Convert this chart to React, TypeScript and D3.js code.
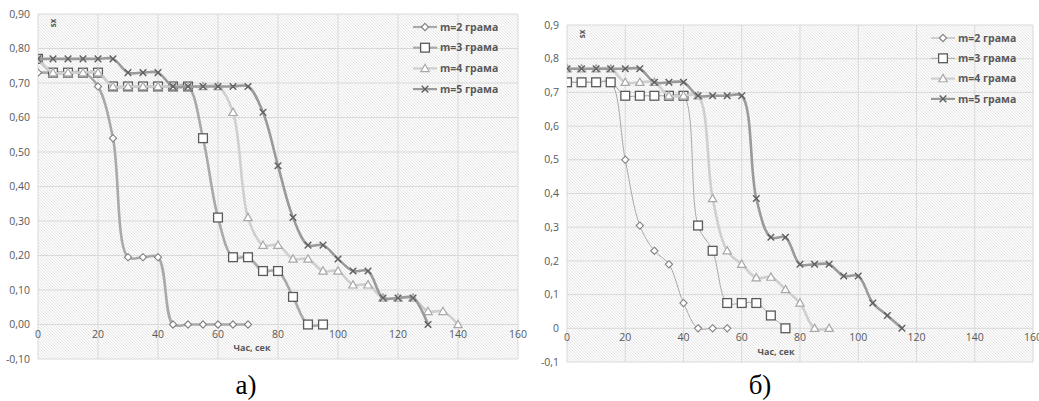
import React from "react";
import * as d3 from "d3";

// ---------- DATA ----------
const seriesNames = ["m=2 грама", "m=3 грама", "m=4 грама", "m=5 грама"];
const xTicks = [0, 20, 40, 60, 80, 100, 120, 140, 160];
const yTicks = [-0.1, 0, 0.1, 0.2, 0.3, 0.4, 0.5, 0.6, 0.7, 0.8, 0.9];
const times = [0, 5, 10, 15, 20, 25, 30, 35, 40, 45, 50, 55, 60, 65, 70, 75, 80, 85, 90, 95, 100, 105, 110, 115, 120, 125, 130, 135, 140];

// chart a)
const a_m2 = [0.73, 0.73, 0.73, 0.73, 0.69, 0.54, 0.195, 0.195, 0.195, 0, 0, 0, 0, 0, 0];
const a_m3 = [0.77, 0.73, 0.73, 0.73, 0.73, 0.69, 0.69, 0.69, 0.69, 0.69, 0.69, 0.54, 0.31, 0.195, 0.195, 0.155, 0.155, 0.08, 0, 0];
const a_m4 = [0.77, 0.73, 0.73, 0.73, 0.73, 0.69, 0.69, 0.69, 0.69, 0.69, 0.69, 0.69, 0.69, 0.615, 0.31, 0.23, 0.23, 0.19, 0.19, 0.155, 0.155, 0.115, 0.115, 0.077, 0.077, 0.077, 0.038, 0.038, 0];
const a_m5 = [0.77, 0.77, 0.77, 0.77, 0.77, 0.77, 0.73, 0.73, 0.73, 0.69, 0.69, 0.69, 0.69, 0.69, 0.69, 0.615, 0.46, 0.31, 0.23, 0.23, 0.19, 0.155, 0.155, 0.077, 0.077, 0.077, 0];

// chart б)
const b_m2 = [0.73, 0.73, 0.73, 0.73, 0.5, 0.305, 0.23, 0.19, 0.075, 0, 0, 0];
const b_m3 = [0.73, 0.73, 0.73, 0.73, 0.69, 0.69, 0.69, 0.69, 0.69, 0.305, 0.23, 0.075, 0.075, 0.075, 0.038, 0];
const b_m4 = [0.77, 0.77, 0.77, 0.77, 0.73, 0.73, 0.73, 0.69, 0.69, 0.69, 0.385, 0.23, 0.19, 0.15, 0.152, 0.115, 0.075, 0, 0];
const b_m5 = [0.77, 0.77, 0.77, 0.77, 0.77, 0.77, 0.73, 0.73, 0.73, 0.69, 0.69, 0.69, 0.69, 0.385, 0.27, 0.27, 0.19, 0.19, 0.19, 0.155, 0.155, 0.075, 0.038, 0];

// ---------- STYLE ----------
const FONT = "'Open Sans', 'Noto Sans', sans-serif";
const TXT = "#595959";
const GRID = "#d9d9d9";

type MarkerKind = "diamond" | "square" | "triangle" | "x";
const styles: { line: string; marker: MarkerKind; mstroke: string }[] = [
  { line: "#a9a9a9", marker: "diamond", mstroke: "#808080" },
  { line: "#a9a9a9", marker: "square", mstroke: "#5a5a5a" },
  { line: "#cfcfcf", marker: "triangle", mstroke: "#a8a8a8" },
  { line: "#9a9a9a", marker: "x", mstroke: "#5f5f5f" },
];

function Marker({ kind, x, y, stroke }: { kind: MarkerKind; x: number; y: number; stroke: string }) {
  if (kind === "diamond") {
    const r = 3.6;
    return <path d={`M${x},${y - r}L${x + r},${y}L${x},${y + r}L${x - r},${y}Z`} fill="#fff" stroke={stroke} strokeWidth={1.1} />;
  }
  if (kind === "square") {
    const r = 4.4;
    return <rect x={x - r} y={y - r} width={2 * r} height={2 * r} fill="#fff" stroke={stroke} strokeWidth={1.3} />;
  }
  if (kind === "triangle") {
    const r = 4.2;
    return <path d={`M${x},${y - r}L${x + r},${y + r * 0.75}L${x - r},${y + r * 0.75}Z`} fill="#fff" stroke={stroke} strokeWidth={1.2} />;
  }
  const r = 3.3;
  return <path d={`M${x - r},${y - r}L${x + r},${y + r}M${x - r},${y + r}L${x + r},${y - r}`} stroke={stroke} strokeWidth={1.4} fill="none" />;
}

interface ChartProps {
  id: string;
  left: number;
  right: number;
  top: number;
  bottom: number;
  series: number[][];
  widths: number[];
  fmt: (v: number) => string;
  legendX: number;
  legendY: number;
  legendStep: number;
  titleX: number;
  titleY: number;
  caption: string;
  captionX: number;
}

function Chart(p: ChartProps) {
  const x = d3.scaleLinear().domain([0, 160]).range([p.left, p.right]);
  const y = d3.scaleLinear().domain([-0.1, 0.9]).range([p.bottom, p.top]);
  const line = d3
    .line<number>()
    .x((_, i) => x(times[i]))
    .y((d) => y(d))
    .curve(d3.curveCatmullRom.alpha(0.5));
  return (
    <g>
      <defs>
        <pattern id={`hatch-${p.id}`} width={3} height={3} patternUnits="userSpaceOnUse">
          <rect width={3} height={3} fill="#fbfbfb" />
          <path d="M-1,-1L4,4" stroke="#e2e2e2" strokeWidth={0.8} />
        </pattern>
        <clipPath id={`clip-${p.id}`}>
          <rect x={p.left} y={p.top - 2} width={p.right - p.left + 2} height={p.bottom - p.top + 4} />
        </clipPath>
      </defs>
      <rect x={p.left} y={p.top} width={p.right - p.left} height={p.bottom - p.top} fill={`url(#hatch-${p.id})`} />
      {xTicks.map((t) => (
        <line key={"gx" + t} x1={x(t)} x2={x(t)} y1={p.top} y2={p.bottom} stroke={GRID} strokeWidth={1} />
      ))}
      {yTicks.map((t) => (
        <line key={"gy" + t} x1={p.left} x2={p.right} y1={y(t)} y2={y(t)} stroke={GRID} strokeWidth={1} />
      ))}
      {yTicks.map((t) => (
        <text key={"ty" + t} x={p.left - 8} y={y(t)} dy="0.35em" textAnchor="end" fontSize={10.5} fill={TXT} fontFamily={FONT}>
          {p.fmt(t)}
        </text>
      ))}
      {xTicks.map((t) => (
        <text key={"tx" + t} x={x(t)} y={y(0) + 13} textAnchor="middle" fontSize={10.5} fill={TXT} fontFamily={FONT}>
          {t}
        </text>
      ))}
      <text x={p.titleX} y={p.titleY} textAnchor="middle" fontSize={9} fontWeight="bold" fill={TXT} fontFamily={FONT}>
        Час, сек
      </text>
      <text
        transform={`translate(${x(5.1)},${p.top + 9}) rotate(-90)`}
        textAnchor="middle"
        dy="0.35em"
        fontSize={8}
        fontWeight="bold"
        fill={TXT}
        fontFamily={FONT}
      >
        sx
      </text>
      <g clipPath={`url(#clip-${p.id})`}>
        {p.series.map((s, si) => (
          <g key={"s" + si}>
            <path d={line(s) || ""} fill="none" stroke={styles[si].line} strokeWidth={p.widths[si]} strokeLinejoin="round" strokeLinecap="round" />
            {s.map((v, i) => (
              <Marker key={i} kind={styles[si].marker} x={x(times[i])} y={y(v)} stroke={styles[si].mstroke} />
            ))}
          </g>
        ))}
      </g>
      {seriesNames.map((n, i) => {
        const ly = p.legendY + i * p.legendStep;
        return (
          <g key={"lg" + i}>
            <line x1={p.legendX - 12} x2={p.legendX + 12} y1={ly} y2={ly} stroke={styles[i].line} strokeWidth={Math.min(p.widths[i], 2.2)} />
            <Marker kind={styles[i].marker} x={p.legendX} y={ly} stroke={styles[i].mstroke} />
            <text x={p.legendX + 15} y={ly} dy="0.35em" fontSize={10.5} fontWeight="bold" fill={TXT} fontFamily={FONT}>
              {n}
            </text>
          </g>
        );
      })}
      <text x={p.captionX} y={394} textAnchor="middle" fontSize={27} fill="#000" fontFamily="'Liberation Serif', 'DejaVu Serif', serif">
        {p.caption}
      </text>
    </g>
  );
}

export default function App() {
  const fmtA = (v: number) => d3.format(".2f")(v).replace(".", ",").replace("−", "-");
  const fmtB = (v: number) => {
    const r = Math.round(v * 10) / 10;
    return r === 0 ? "0" : d3.format(".1f")(r).replace(".", ",").replace("−", "-");
  };
  return (
    <svg width={1039} height={401} style={{ position: "absolute", left: 0, top: 0, background: "#fff" }}>
      <rect width={1039} height={401} fill="#fff" />
      <Chart
        id="a"
        left={38}
        right={518}
        top={14}
        bottom={359}
        series={[a_m2, a_m3, a_m4, a_m5]}
        widths={[2.6, 2.6, 2.6, 2.6]}
        fmt={fmtA}
        legendX={425}
        legendY={27}
        legendStep={20.7}
        titleX={252}
        titleY={351}
        caption="а)"
        captionX={246}
      />
      <Chart
        id="b"
        left={567}
        right={1033}
        top={25}
        bottom={362}
        series={[b_m2, b_m3, b_m4, b_m5]}
        widths={[1, 1, 2.6, 2.6]}
        fmt={fmtB}
        legendX={943}
        legendY={38}
        legendStep={20.3}
        titleX={776}
        titleY={355}
        caption="б)"
        captionX={760}
      />
    </svg>
  );
}
